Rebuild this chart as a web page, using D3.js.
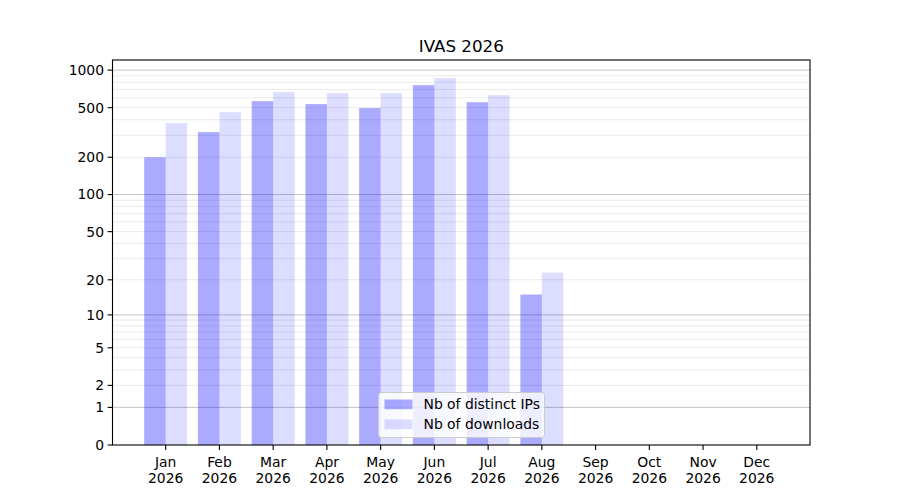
<!DOCTYPE html>
<html>
<head>
<meta charset="utf-8">
<script src="https://cdn.jsdelivr.net/npm/d3@7/dist/d3.min.js"></script>
<style>
  body { margin: 0; background: #fff; }
  text { font-family: "DejaVu Sans", sans-serif; fill: #000; }
</style>
</head>
<body>
<script>
// data
const months = ["Jan", "Feb", "Mar", "Apr", "May", "Jun", "Jul", "Aug", "Sep", "Oct", "Nov", "Dec"];
const year = "2026";
const distinctIPs = [200, 318, 564, 534, 496, 758, 553, 15, 0, 0, 0, 0];
const downloads = [376, 460, 666, 654, 654, 862, 630, 23, 0, 0, 0, 0];
const yTicks = [0, 1, 2, 5, 10, 20, 50, 100, 200, 500, 1000];
const majorGrid = [1, 10, 100, 1000];
const minorGrid = [2, 3, 4, 5, 6, 7, 8, 9, 20, 30, 40, 50, 60, 70, 80, 90,
                   200, 300, 400, 500, 600, 700, 800, 900];

const w = 900;
const h = 500;
const mLeft = 112.5, mRight = 810, mTop = 60, mBottom = 445;
const barW = 0.4;

const svg = d3.select("body")
              .append("svg")
              .attr("width", w)
              .attr("height", h);

const x = d3.scaleLinear()
            .domain([-0.99, 11.99])
            .range([mLeft, mRight]);

// log10(1 + v) scale, same as symlog with constant 1
const y = d3.scaleSymlog()
            .constant(1)
            .domain([0, 1205])
            .range([mBottom, mTop]);

// grid
svg.selectAll("line.minor")
   .data(minorGrid)
   .enter()
   .append("line")
   .attr("class", "minor")
   .attr("x1", mLeft).attr("x2", mRight)
   .attr("y1", d => y(d)).attr("y2", d => y(d))
   .attr("stroke", "#ebebeb")
   .attr("stroke-width", 1);

svg.selectAll("line.major")
   .data(majorGrid)
   .enter()
   .append("line")
   .attr("class", "major")
   .attr("x1", mLeft).attr("x2", mRight)
   .attr("y1", d => y(d)).attr("y2", d => y(d))
   .attr("stroke", "#c4c4c4")
   .attr("stroke-width", 1);

// bars
svg.selectAll("rect.ips")
   .data(distinctIPs)
   .enter()
   .append("rect")
   .attr("class", "ips")
   .attr("x", (d, i) => x(i - barW))
   .attr("y", d => y(d))
   .attr("width", x(barW) - x(0))
   .attr("height", d => mBottom - y(d))
   .attr("fill", "blue")
   .attr("fill-opacity", 0.333);

svg.selectAll("rect.dl")
   .data(downloads)
   .enter()
   .append("rect")
   .attr("class", "dl")
   .attr("x", (d, i) => x(i))
   .attr("y", d => y(d))
   .attr("width", x(barW) - x(0))
   .attr("height", d => mBottom - y(d))
   .attr("fill", "blue")
   .attr("fill-opacity", 0.133);

// frame
svg.append("rect")
   .attr("x", mLeft).attr("y", mTop)
   .attr("width", mRight - mLeft).attr("height", mBottom - mTop)
   .attr("fill", "none")
   .attr("stroke", "#000")
   .attr("stroke-width", 1.1);

// y axis
const yAxis = svg.append("g");
yAxis.selectAll("line")
     .data(yTicks)
     .enter()
     .append("line")
     .attr("x1", mLeft - 4.9).attr("x2", mLeft)
     .attr("y1", d => y(d)).attr("y2", d => y(d))
     .attr("stroke", "#000")
     .attr("stroke-width", 1.1);
yAxis.selectAll("text")
     .data(yTicks)
     .enter()
     .append("text")
     .attr("x", mLeft - 8.5)
     .attr("y", d => y(d))
     .attr("dy", "0.35em")
     .attr("text-anchor", "end")
     .style("font-size", "13.9px")
     .text(d => d);

// x axis
const xAxis = svg.append("g");
xAxis.selectAll("line")
     .data(months)
     .enter()
     .append("line")
     .attr("x1", (d, i) => x(i)).attr("x2", (d, i) => x(i))
     .attr("y1", mBottom).attr("y2", mBottom + 4.9)
     .attr("stroke", "#000")
     .attr("stroke-width", 1.1);
const xl = xAxis.selectAll("text")
     .data(months)
     .enter()
     .append("text")
     .attr("text-anchor", "middle")
     .style("font-size", "13.9px");
xl.append("tspan")
  .attr("x", (d, i) => x(i))
  .attr("y", 467)
  .text(d => d);
xl.append("tspan")
  .attr("x", (d, i) => x(i))
  .attr("y", 483)
  .text(year);

// title
svg.append("text")
   .attr("x", (mLeft + mRight) / 2)
   .attr("y", 52)
   .attr("text-anchor", "middle")
   .style("font-size", "16.7px")
   .text("IVAS 2026");

// legend
const lg = svg.append("g").attr("transform", "translate(378.5,392.5)");
lg.append("rect")
  .attr("width", 166).attr("height", 45)
  .attr("rx", 3)
  .attr("fill", "#fff").attr("fill-opacity", 0.8)
  .attr("stroke", "#cccccc");
const entries = [
  { label: "Nb of distinct IPs", op: 0.333 },
  { label: "Nb of downloads", op: 0.133 }
];
entries.forEach((e, i) => {
  lg.append("rect")
    .attr("x", 6).attr("y", 7 + i * 20)
    .attr("width", 28).attr("height", 9.7)
    .attr("fill", "blue").attr("fill-opacity", e.op);
  lg.append("text")
    .attr("x", 45).attr("y", 12 + i * 20)
    .attr("dy", "0.35em")
    .style("font-size", "13.9px")
    .text(e.label);
});
</script>
</body>
</html>
